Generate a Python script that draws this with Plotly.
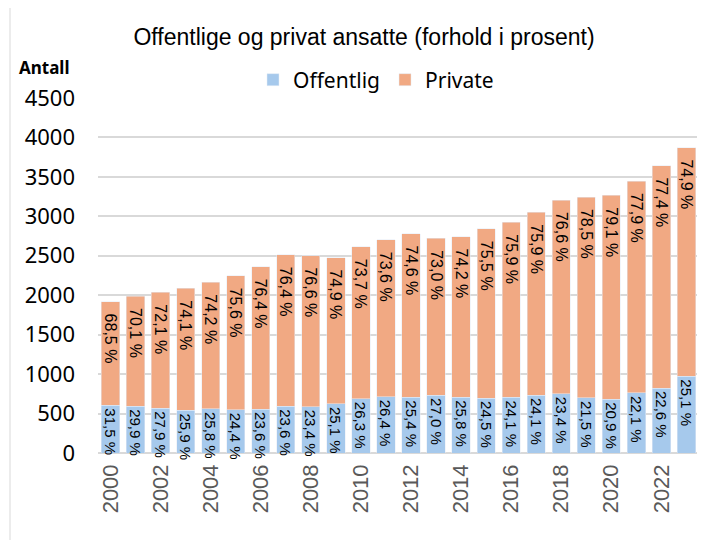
import plotly.graph_objects as go

years = list(range(2000, 2024))
offentlig = [604, 594, 568, 540, 558, 548, 557, 593, 586, 622, 687, 713,
             706, 735, 708, 696, 705, 735, 750, 698, 682, 762, 824, 972]
private = [1314, 1394, 1467, 1546, 1604, 1698, 1803, 1919, 1917, 1856, 1925, 1988,
           2075, 1987, 2035, 2144, 2219, 2315, 2457, 2547, 2583, 2685, 2820, 2900]
offentlig_pct = ["31,5 %", "29,9 %", "27,9 %", "25,9 %", "25,8 %", "24,4 %", "23,6 %", "23,6 %",
                 "23,4 %", "25,1 %", "26,3 %", "26,4 %", "25,4 %", "27,0 %", "25,8 %", "24,5 %",
                 "24,1 %", "24,1 %", "23,4 %", "21,5 %", "20,9 %", "22,1 %", "22,6 %", "25,1 %"]
private_pct = ["68,5 %", "70,1 %", "72,1 %", "74,1 %", "74,2 %", "75,6 %", "76,4 %", "76,4 %",
               "76,6 %", "74,9 %", "73,7 %", "73,6 %", "74,6 %", "73,0 %", "74,2 %", "75,5 %",
               "75,9 %", "75,9 %", "76,6 %", "78,5 %", "79,1 %", "77,9 %", "77,4 %", "74,9 %"]

label_family = "Liberation Sans, Arial, sans-serif"

# page body has an 8px margin: lay out in figure pixels = reference pixels - 8
OFF = 8
W, H = 705 - OFF, 540 - OFF
L, R, T, B = 98 - OFF, 6, 98 - OFF, 540 - 453
PW, PH = W - L - R, H - T - B


def px_x(x):
    return (x - OFF - L) / PW


def px_y(y):
    return (H - B - (y - OFF)) / PH


fig = go.Figure()
fig.add_trace(go.Bar(
    x=years, y=offentlig, name="Offentlig", marker_color="#a6c9ec",
    text=offentlig_pct, textposition="inside", insidetextanchor="end",
    textangle=90, textfont=dict(family=label_family, size=15, color="#000000"),
    constraintext="none", cliponaxis=False,
))
fig.add_trace(go.Bar(
    x=years, y=private, name="Private", marker_color="#f1a983",
    text=private_pct, texttemplate="\u00a0\u00a0%{text}",
    textposition="inside", insidetextanchor="end",
    textangle=90, textfont=dict(family=label_family, size=16, color="#000000"),
    constraintext="none",
))

fig.update_layout(
    barmode="stack",
    bargap=0.27,
    width=W, height=H,
    margin=dict(l=L, r=R, t=T, b=B),
    paper_bgcolor="white", plot_bgcolor="white",
    title=dict(text="Offentlige og privat ansatte (forhold i prosent)",
               x=(364 - OFF) / W, xanchor="center", y=1 - (37 - OFF) / H, yanchor="middle",
               font=dict(family="Liberation Sans Narrow, Arial Narrow, sans-serif", size=23, color="#000000")),
    legend=dict(orientation="h", x=px_x(376), xanchor="center",
                y=px_y(80), yanchor="middle",
                font=dict(family="Noto Sans, sans-serif", size=21, color="#000000"),
                itemclick=False, traceorder="normal"),
    showlegend=True,
)

fig.update_xaxes(
    range=[1999.5, 2023.5], dtick=2, tick0=2000, tickangle=-90,
    tickfont=dict(family="Liberation Sans, Arial, sans-serif", size=22, color="#595959"),
    showgrid=False, ticks="", showline=False, zeroline=False,
    ticklabelstandoff=6,
)
fig.update_yaxes(
    range=[0, 4500], dtick=500, tick0=0,
    tickfont=dict(family="Noto Sans, sans-serif", size=22, color="#000000"),
    showgrid=True, gridcolor="#d9d9d9", gridwidth=1.5,
    zeroline=True, zerolinecolor="#d9d9d9", zerolinewidth=1.5,
    ticks="", showline=False, ticklabelstandoff=22,
)

fig.add_annotation(
    text="<b>Antall</b>", xref="paper", yref="paper",
    x=px_x(44), y=px_y(68), xanchor="center", yanchor="middle",
    showarrow=False, font=dict(family="Noto Sans, sans-serif", size=17, color="#000000"),
)

fig.add_shape(
    type="rect", xref="paper", yref="paper",
    x0=px_x(10), x1=px_x(700),
    y0=px_y(560), y1=px_y(5),
    line=dict(color="#d9d9d9", width=1), fillcolor="rgba(0,0,0,0)", layer="below",
)

fig.write_html("out.html")
